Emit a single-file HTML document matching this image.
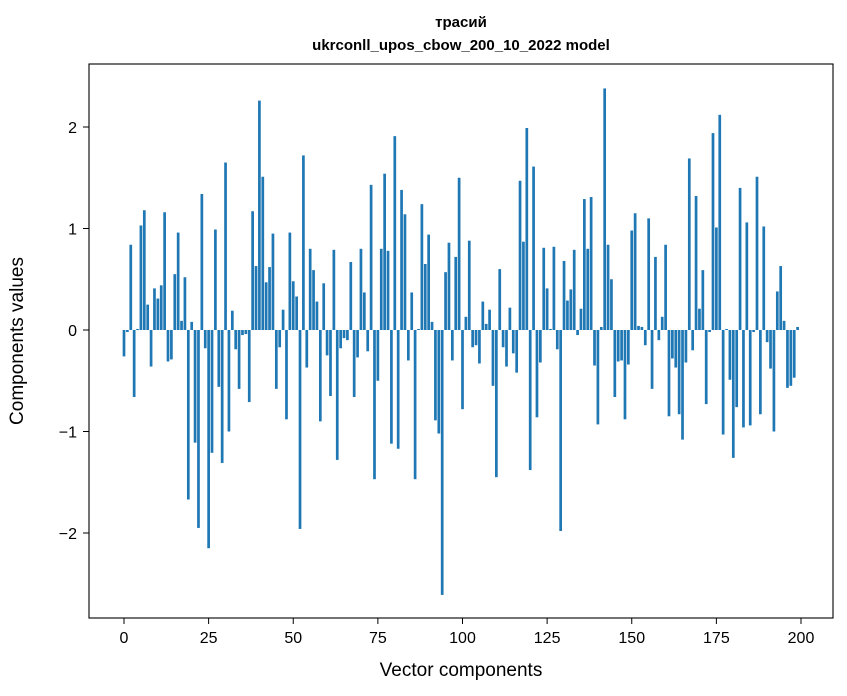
<!DOCTYPE html>
<html><head><meta charset="utf-8"><style>
body{margin:0;background:#fff;}
svg{display:block;font-family:"Liberation Sans","DejaVu Sans",sans-serif;}
</style></head><body>
<svg id="chart" width="847" height="696">
<rect width="847" height="696" fill="#fff"/>
<text x="461" y="27" text-anchor="middle" font-size="15" font-weight="bold">трасий</text>
<text x="461" y="50" text-anchor="middle" font-size="15" font-weight="bold">ukrconll_upos_cbow_200_10_2022 model</text>
<g id="bars"></g>
<g id="xticks"></g>
<g id="yticks"></g>
<rect x="89" y="64" width="744" height="554" fill="none" stroke="#000" stroke-width="1.1"/>
<text x="461" y="676" text-anchor="middle" font-size="19">Vector components</text>
<text x="23" y="341" text-anchor="middle" font-size="19" transform="rotate(-90 23 341)">Components values</text>
</svg>
<script>
const values=[-0.26,-0.02,0.84,-0.66,0.01,1.03,1.18,0.25,-0.36,0.41,0.31,0.44,1.16,-0.31,-0.29,0.55,0.96,0.09,0.52,-1.67,0.08,-1.11,-1.95,1.34,-0.18,-2.15,-1.21,0.99,-0.56,-1.31,1.65,-1.0,0.19,-0.19,-0.58,-0.05,-0.04,-0.71,1.17,0.63,2.26,1.51,0.47,0.62,0.95,-0.58,-0.17,0.20,-0.88,0.96,0.48,0.33,-1.96,1.72,-0.37,0.80,0.59,0.28,-0.90,0.46,-0.25,-0.65,0.79,-1.28,-0.18,-0.08,-0.10,0.67,-0.66,-0.27,0.80,0.37,-0.21,1.43,-1.47,-0.50,0.80,1.54,0.78,-1.12,1.91,-1.17,1.38,1.14,-0.30,0.37,-1.47,0.01,1.24,0.65,0.94,0.08,-0.89,-1.02,-2.61,0.57,0.86,-0.30,0.72,1.50,-0.78,0.13,0.88,-0.17,-0.15,-0.33,0.28,0.06,0.20,-0.55,-1.45,0.60,-0.17,-0.36,0.22,-0.23,-0.42,1.47,0.87,1.99,-1.38,1.61,-0.86,-0.32,0.81,0.41,0.01,0.82,-0.19,-1.98,0.68,0.29,0.40,0.79,-0.05,0.21,1.29,0.80,1.31,-0.35,-0.93,0.03,2.38,0.84,0.50,-0.66,-0.31,-0.30,-0.88,-0.34,0.98,1.15,0.04,0.03,-0.15,1.10,-0.58,0.72,-0.10,0.13,0.84,-0.85,-0.28,-0.37,-0.83,-1.08,-0.32,1.69,-0.20,1.32,0.21,0.59,-0.73,-0.02,1.94,1.01,2.12,-1.03,0.01,-0.49,-1.26,-0.76,1.40,-0.96,1.06,-0.94,-0.02,1.51,-0.83,1.02,-0.12,-0.38,-1.00,0.38,0.63,0.09,-0.57,-0.55,-0.47,0.03];
const xTicks=[0,25,50,75,100,125,150,175,200];
const yTicks=[-2,-1,0,1,2];
const yTickLabels=["\u22122","\u22121","0","1","2"];
const NS="http://www.w3.org/2000/svg";
function xs(v){return 124+v*3.385;}
function ys(v){return 330-v*101.5;}
const bars=document.getElementById('bars');
values.forEach((v,i)=>{
 const r=document.createElementNS(NS,'rect');
 
 
 const y0=ys(Math.max(v,0)),y1=ys(Math.min(v,0));
 r.setAttribute('x',xs(i-0.4));r.setAttribute('width',0.8*3.385);
 r.setAttribute('y',y0);r.setAttribute('height',Math.max(y1-y0,0.3));
 r.setAttribute('fill','#1f77b4');
 bars.appendChild(r);
});
const xg=document.getElementById('xticks');
xTicks.forEach(t=>{
 const l=document.createElementNS(NS,'line');
 
 
 l.setAttribute('x1',xs(t));l.setAttribute('x2',xs(t));l.setAttribute('y1',618);l.setAttribute('y2',624);l.setAttribute('stroke','#000');
 xg.appendChild(l);
 const tx=document.createElementNS(NS,'text');
 
 
 tx.setAttribute('x',xs(t));tx.setAttribute('y',643);tx.setAttribute('text-anchor','middle');tx.setAttribute('font-size','16');
 tx.textContent=t;xg.appendChild(tx);
});
const yg=document.getElementById('yticks');
yTicks.forEach((t,i)=>{
 const l=document.createElementNS(NS,'line');
 
 
 l.setAttribute('x1',83);l.setAttribute('x2',89);l.setAttribute('y1',ys(t));l.setAttribute('y2',ys(t));l.setAttribute('stroke','#000');
 yg.appendChild(l);
 const tx=document.createElementNS(NS,'text');
 
 
 tx.setAttribute('x',77);tx.setAttribute('y',ys(t)+6);tx.setAttribute('text-anchor','end');tx.setAttribute('font-size','16');
 tx.textContent=yTickLabels[i];yg.appendChild(tx);
});
</script>
</body></html>
